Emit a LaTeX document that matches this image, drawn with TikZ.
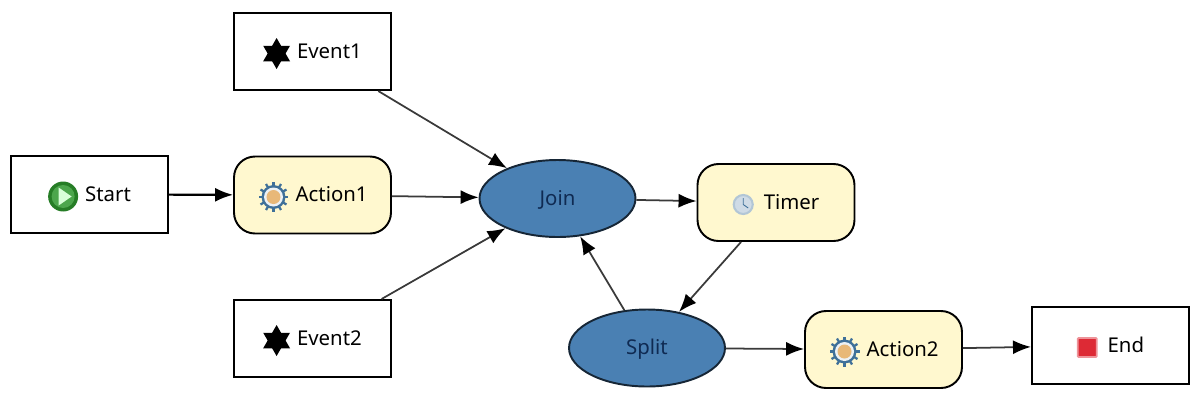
\documentclass[tikz,border=0pt]{standalone}
\usepackage{fontspec}
\setmainfont{Noto Sans}
\usetikzlibrary{arrows.meta,shapes.geometric}

\definecolor{actionfill}{HTML}{FFF8CF}
\definecolor{gatefill}{HTML}{4A80B3}
\definecolor{gatetext}{HTML}{0F2A52}
\definecolor{linkgray}{HTML}{3A3A3A}
\definecolor{gearblue}{HTML}{3F7099}
\definecolor{gearcore}{HTML}{E8B878}
\definecolor{stopred}{HTML}{DD2A35}

\tikzset{
    boxtext/.style={text height=0.38cm, text depth=0.12cm, font=\fontsize{11.6}{13}\selectfont},
    plainbox/.style={draw=black, line width=1.2pt, fill=white, minimum width=3.14cm, minimum height=1.54cm, inner sep=0pt, boxtext},
    actionbox/.style={plainbox, fill=actionfill, line width=1.1pt, rounded corners=0.42cm},
    gate/.style={ellipse, draw=black!70!gatefill, line width=1.1pt, fill=gatefill, text=gatetext, minimum width=3.12cm, minimum height=1.54cm, inner sep=0pt, boxtext},
    link/.style={draw=linkgray, line width=1pt, -{Latex[length=0.36cm,width=0.28cm,black]}},
}

% small icons set in front of the node texts
\newsavebox{\iconstart}
\sbox{\iconstart}{\tikz[baseline=-0.09cm]{
    \fill[green!40!black!85] (0,0) circle (0.3);
    \fill[green!50!black!70] (0,0) circle (0.23);
    \fill[white!85!green] (-0.09,-0.18)--(-0.09,0.18)--(0.17,0)--cycle;
}}
\newsavebox{\icongear}
\sbox{\icongear}{\tikz[baseline=-0.09cm]{
    \foreach \a in {0,30,...,330}
        \draw[gearblue, line width=1.3pt] (0,0)--(\a:0.3);
    \fill[gearblue] (0,0) circle (0.24);
    \fill[white!90!gearblue] (0,0) circle (0.19);
    \fill[gearcore] (0,0) circle (0.14);
}}
\newsavebox{\iconevent}
\sbox{\iconevent}{\tikz[baseline=-0.09cm]{
    \fill[black] (90:0.31)--(210:0.31)--(330:0.31)--cycle;
    \fill[black] (30:0.31)--(150:0.31)--(270:0.31)--cycle;
}}
\newsavebox{\iconclock}
\sbox{\iconclock}{\tikz[baseline=-0.09cm]{
    \draw[gearblue!40!white, fill=gearblue!25!white, line width=1.2pt] (0,0) circle (0.19);
    \draw[gearblue, line width=0.5pt] (0,0.13)--(0,0)--(0.1,-0.07);
}}
\newsavebox{\iconstop}
\sbox{\iconstop}{\tikz[baseline=-0.09cm]{
    \draw[stopred!50!white, fill=stopred, line width=1pt, rounded corners=0.5pt] (-0.19,-0.19) rectangle (0.19,0.19);
}}

\begin{document}
\begin{tikzpicture}[x=0.02cm, y=-0.02cm]
    \useasboundingbox (0,0) rectangle (1200,400);

    \node[plainbox] (start) at (89.5,194.5) {\usebox{\iconstart}\hspace{0.14cm}Start};
    \node[actionbox] (action1) at (312.5,195) {\usebox{\icongear}\hspace{0.12cm}Action1};
    \node[plainbox] (event1) at (312.5,51.5) {\usebox{\iconevent}\hspace{0.14cm}Event1};
    \node[plainbox] (event2) at (312.5,338.5) {\usebox{\iconevent}\hspace{0.14cm}Event2};

    \node[gate] (join) at (557.5,198.5) {Join};
    \node[gate] (split) at (647,348) {Split};

    \node[actionbox] (timer) at (776,202.5) {\usebox{\iconclock}\hspace{0.2cm}Timer};
    \node[actionbox] (action2) at (883.5,349.5) {\usebox{\icongear}\hspace{0.12cm}Action2};
    \node[plainbox] (end) at (1110.5,345.5) {\usebox{\iconstop}\hspace{0.2cm}End};

    \draw[link, draw=black, line width=1.2pt] (start)--(action1);
    \draw[link] (action1)--(join);
    \draw[link] (event1)--(join);
    \draw[link] (event2)--(join);
    \draw[link] (join)--(timer);
    \draw[link] (timer)--(split);
    \draw[link] (split)--(join);
    \draw[link] (split)--(action2);
    \draw[link] (action2)--(end);
\end{tikzpicture}
\end{document}
